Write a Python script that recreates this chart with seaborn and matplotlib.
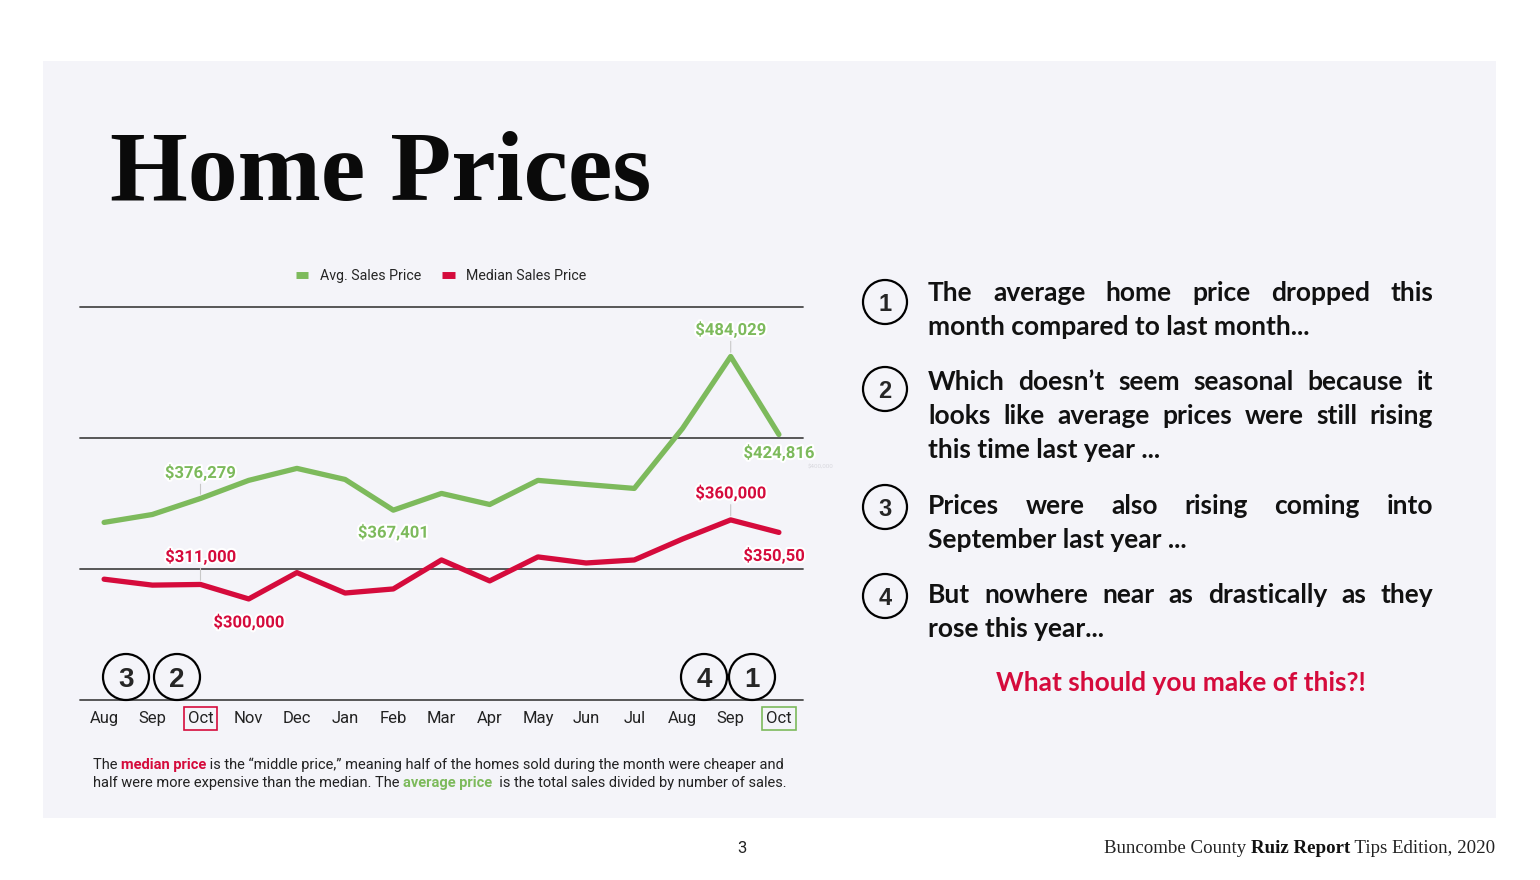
import numpy as np
import pandas as pd
import matplotlib.pyplot as plt
import matplotlib.patheffects as pe
import matplotlib.transforms as mtransforms
from matplotlib.patches import Ellipse, Rectangle
from matplotlib.lines import Line2D
import seaborn as sns

# ---- data ----
months = ["Aug", "Sep", "Oct", "Nov", "Dec", "Jan", "Feb", "Mar",
          "Apr", "May", "Jun", "Jul", "Aug", "Sep", "Oct"]
avg_price = [358100, 364100, 376279, 390000, 399100, 390700, 367401, 380100,
             371700, 390000, 386900, 383900, 429400, 484029, 424816]
median_price = [315000, 310500, 311000, 300000, 320000, 304500, 307600, 329600,
                313700, 331900, 327300, 329600, 345500, 360000, 350500]

avg_label_idx = [2, 6, 13, 14]
avg_label_text = ["$376,279", "$367,401", "$484,029", "$424,816"]
med_label_idx = [2, 3, 13, 14]
med_label_text = ["$311,000", "$300,000", "$360,000", "$350,50"]

notes = [
    ("1", ["The average home price dropped this", "month compared to last month..."]),
    ("2", ["Which doesn\u2019t seem seasonal because it",
           "looks like average prices were still rising",
           "this time last year ..."]),
    ("3", ["Prices were also rising coming into", "September last year ..."]),
    ("4", ["But nowhere near as drastically as they", "rose this year..."]),
]

GREEN = "#7DBA5C"
RED = "#D50B3C"
PANEL = "#F4F4F9"
W, H = 1540, 880

sns.set_style("white")
plt.rcParams["font.family"] = ["Roboto", "DejaVu Sans"]


def fx(x):
    return x / W


def fy(y):
    return 1 - y / H


df = pd.DataFrame({
    "pos": list(range(len(months))) * 2,
    "price": avg_price + median_price,
    "series": ["Avg. Sales Price"] * len(months) + ["Median Sales Price"] * len(months),
})

fig = plt.figure(figsize=(W / 100, H / 100), dpi=100)
fig.patch.set_facecolor("white")
fig.patches.append(Rectangle((fx(43), fy(818)), (1496 - 43) / W, (818 - 61) / H,
                             transform=fig.transFigure, facecolor=PANEL,
                             edgecolor="none", zorder=-5))

ax = fig.add_axes([fx(80), fy(700), (803 - 80) / W, (700 - 307) / H])
ax.set_facecolor("none")
ax.set_zorder(2)

sns.lineplot(data=df, x="pos", y="price", hue="series", sort=False,
             palette={"Avg. Sales Price": GREEN, "Median Sales Price": RED},
             linewidth=3.8, legend=False, ax=ax, zorder=3)

ylim = (223300, 521600)
ax.set_ylim(*ylim)
ax.set_xlim(-0.5, len(months) - 0.5)
for gy in np.linspace(ylim[0], ylim[1], 4):
    ax.axhline(gy, color="#4a4a4a", lw=1.3, zorder=1, clip_on=False)
for s in ax.spines.values():
    s.set_visible(False)
ax.set_yticks([])
ax.set_xticks(range(len(months)))
ax.set_xticklabels(months, fontsize=12, color="#222222")
ax.tick_params(axis="x", length=0, pad=8)
ax.set_xlabel("")
ax.set_ylabel("")
tl = ax.get_xticklabels()
tl[2].set_bbox(dict(boxstyle="square,pad=0.25", fc="none", ec=RED, lw=1.2))
tl[-1].set_bbox(dict(boxstyle="square,pad=0.25", fc="none", ec=GREEN, lw=1.2))

# faint axis value next to the plot
ax.text(1.006, 400000, "$400,000", fontsize=4.5, color="#d8d8de", va="center",
        transform=mtransforms.blended_transform_factory(ax.transAxes, ax.transData))

halo = [pe.withStroke(linewidth=3, foreground="white")]


def label(idx, text, values, color, dy, dx=0, leader=False):
    ax.annotate(text, xy=(idx, values[idx]), xytext=(dx * 0.72, dy * 0.72),
                textcoords="offset points", ha="center", va="center",
                fontsize=12, fontweight="bold", color=color,
                path_effects=halo, zorder=5,
                arrowprops=dict(arrowstyle="-", color="#c8c8c8", lw=0.8,
                                shrinkA=0, shrinkB=3) if leader else None)


avg_offsets = [(26, True), (-22, False), (27, True), (-18, False)]
for i, t, (dy, ld) in zip(avg_label_idx, avg_label_text, avg_offsets):
    label(i, t, avg_price, GREEN, dy, leader=ld)
med_offsets = [(28, True, 0), (-23, False, 0), (27, True, 0), (-23, False, -5)]
for i, t, (dy, ld, dx) in zip(med_label_idx, med_label_text, med_offsets):
    label(i, t, median_price, RED, dy, dx=dx, leader=ld)

# legend
handles = [Line2D([], [], color=GREEN, lw=5, solid_capstyle="butt"),
           Line2D([], [], color=RED, lw=5, solid_capstyle="butt")]
fig.legend(handles, ["Avg. Sales Price", "Median Sales Price"], loc="center",
           bbox_to_anchor=(fx(441), fy(276)), ncol=2, frameon=False,
           fontsize=10.2, handlelength=0.9, handletextpad=0.8, columnspacing=1.5)


def circle(cx, cy, r, num, fs):
    fig.patches.append(Ellipse((fx(cx), fy(cy)), 2 * r / W, 2 * r / H,
                               transform=fig.transFigure, fc="none",
                               ec="black", lw=1.6, zorder=4))
    fig.text(fx(cx), fy(cy), num, ha="center", va="center_baseline",
             fontsize=fs, fontweight="bold", family="Liberation Sans")


for cx, num in zip([126, 177, 704, 752], ["3", "2", "4", "1"]):
    circle(cx, 677, 23, num, 20)

# title
fig.text(fx(110), fy(200), "Home Prices", family="Liberation Serif",
         fontweight="bold", fontsize=72, va="baseline", color="#0a0a0a")

fig.canvas.draw()
renderer = fig.canvas.get_renderer()


def width_of(t):
    return t.get_window_extent(renderer).width


def runs(x, y, parts, fs, ha="left", **kw):
    texts = [fig.text(0, fy(y), s, color=c, fontweight=w, fontsize=fs,
                      va="center", **kw) for s, c, w in parts]
    ws = [width_of(t) for t in texts]
    x0 = x - sum(ws) if ha == "right" else x
    for t, w_ in zip(texts, ws):
        t.set_x(fx(x0))
        x0 += w_


def justified(x0, x1, y, line, fs, **kw):
    words = line.split()
    texts = [fig.text(0, fy(y), w_, fontsize=fs, va="center", **kw) for w_ in words]
    ws = [width_of(t) for t in texts]
    gap = (x1 - x0 - sum(ws)) / (len(words) - 1)
    x = x0
    for t, w_ in zip(texts, ws):
        t.set_x(fx(x))
        x += w_ + gap


# notes on the right
note_style = dict(family=["Lato", "DejaVu Sans"], fontweight="bold", color="#111111")
line_y = [[293, 327], [382, 416, 450], [506, 540], [595, 629]]
circle_y = [302, 389, 507, 596]
for (num, lines), ys, cy in zip(notes, line_y, circle_y):
    circle(885, cy, 22, num, 17)
    for k, (ln, yy) in enumerate(zip(lines, ys)):
        if k < len(lines) - 1:
            justified(928, 1433, yy, ln, 19, **note_style)
        else:
            fig.text(fx(928), fy(yy), ln, fontsize=19, va="center", **note_style)

fig.text(fx(1181), fy(683), "What should you make of this?!", ha="center",
         va="center", fontsize=19, color=RED, family=["Lato", "DejaVu Sans"],
         fontweight="bold")

# explanation under the chart
runs(93, 765, [("The ", "#222222", "normal"), ("median price", RED, "bold"),
               (" is the \u201cmiddle price,\u201d meaning half of the homes sold during "
                "the month were cheaper and", "#222222", "normal")], 10.5)
runs(93, 783, [("half were more expensive than the median. The ", "#222222", "normal"),
               ("average price", GREEN, "bold"),
               ("  is the total sales divided by number of sales.", "#222222", "normal")], 10.5)

# footer
fig.text(fx(742), fy(848), "3", ha="center", va="center", fontsize=12, color="#222222")
runs(1495, 848, [("Buncombe County ", "#222222", "normal"),
                 ("Ruiz Report", "#111111", "bold"),
                 (" Tips Edition, 2020", "#222222", "normal")], 13.6, ha="right",
     family="Liberation Serif")

fig.savefig("out.png", dpi=100, facecolor="white")
